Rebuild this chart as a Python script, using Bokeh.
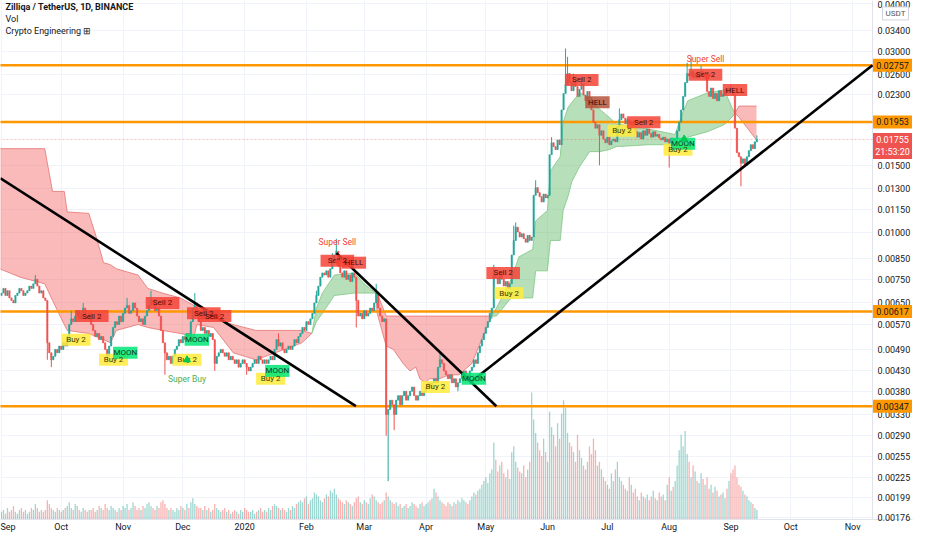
import math
from bokeh.plotting import figure
from bokeh.models import (ColumnDataSource, FixedTicker, NumeralTickFormatter, Range1d,
                          LinearScale, Span, Label, BoxAnnotation)
from bokeh.embed import file_html
from bokeh.resources import INLINE
from bokeh.core.properties import value

# ---------------- data (day 0 = 2019-09-01) ----------------
close = [
    0.0069, 0.0071, 0.0068, 0.0070, 0.0067, 0.0066, 0.0065, 0.0068, 0.0069, 0.0071,
    0.0070, 0.0068, 0.0069, 0.0070, 0.0072, 0.0071, 0.0073, 0.0075, 0.0072, 0.0069,
    0.0070, 0.0067, 0.0066, 0.0051, 0.0048, 0.0046, 0.0047, 0.0049, 0.0048, 0.0050,
    0.0049, 0.0051, 0.0050, 0.0053, 0.0057, 0.0059, 0.0058, 0.0060, 0.0062, 0.0059,
    0.0061, 0.0063, 0.0060, 0.0059, 0.0061, 0.0057, 0.0055, 0.0053, 0.0054, 0.0052,
    0.0053, 0.0051, 0.0049, 0.0047, 0.0050, 0.0053, 0.0056, 0.0058, 0.0057, 0.0060,
    0.0058, 0.0061, 0.0063, 0.0064, 0.0061, 0.0062, 0.0065, 0.0063, 0.0060, 0.0058,
    0.0059, 0.0057, 0.0060, 0.0062, 0.0064, 0.0066, 0.0065, 0.0062, 0.0063, 0.0060,
    0.0055, 0.0051, 0.0048, 0.0046, 0.0047, 0.0045, 0.0047, 0.0049, 0.0050, 0.0052,
    0.0051, 0.0053, 0.0052, 0.0054, 0.0053, 0.0058, 0.0063, 0.0065, 0.0061, 0.0058,
    0.0055, 0.0056, 0.0054, 0.0055, 0.0053, 0.0054, 0.0052, 0.0045, 0.0047, 0.0048,
    0.0049, 0.0048, 0.0047, 0.0048, 0.0046, 0.0047, 0.0046, 0.0045, 0.0046, 0.0044,
    0.0045, 0.0046, 0.0045, 0.0044, 0.0043, 0.0044, 0.0045, 0.0046, 0.0045, 0.0047,
    0.0046, 0.0045, 0.0046, 0.0045, 0.0046, 0.0047, 0.0046, 0.0049, 0.0052, 0.0050,
    0.0051, 0.0049, 0.0048, 0.0049, 0.0050, 0.0049, 0.0050, 0.0052, 0.0051, 0.0053,
    0.0054, 0.0056, 0.0055, 0.0058, 0.0057, 0.0059, 0.0061, 0.0065, 0.0068, 0.0072,
    0.0076, 0.0078, 0.0077, 0.0079, 0.0076, 0.0080, 0.0084, 0.0087, 0.0089, 0.0083,
    0.0078, 0.0076, 0.0079, 0.0075, 0.0077, 0.0074, 0.0078, 0.0076, 0.0066, 0.0060,
    0.0061, 0.0059, 0.0062, 0.0060, 0.0061, 0.0063, 0.0062, 0.0065, 0.0069, 0.0063,
    0.0060, 0.0058, 0.0059, 0.0033, 0.0034, 0.0036, 0.0035, 0.0033, 0.0036, 0.0037,
    0.0035, 0.0037, 0.0038, 0.0036, 0.0037, 0.0038, 0.0039, 0.0037, 0.0036, 0.0037,
    0.0038, 0.0037, 0.0038, 0.0039, 0.0040, 0.0039, 0.0040, 0.0041, 0.0040, 0.0044,
    0.0046, 0.0045, 0.0043, 0.0042, 0.0041, 0.0042, 0.0040, 0.0041, 0.0039, 0.0040,
    0.0041, 0.0042, 0.0043, 0.0042, 0.0041, 0.0043, 0.0044, 0.0046, 0.0045, 0.0048,
    0.0050, 0.0052, 0.0054, 0.0056, 0.0058, 0.0061, 0.0063, 0.0077, 0.0076, 0.0073,
    0.0078, 0.0075, 0.0072, 0.0074, 0.0071, 0.0073, 0.0087, 0.0095, 0.0103, 0.0100,
    0.0097, 0.0099, 0.0096, 0.0094, 0.0098, 0.0095, 0.0097, 0.0125, 0.0131, 0.0127,
    0.0124, 0.0120, 0.0126, 0.0123, 0.0125, 0.0160, 0.0172, 0.0168, 0.0165, 0.0175,
    0.0170, 0.0210, 0.0232, 0.0245, 0.0262, 0.0248, 0.0236, 0.0250, 0.0242, 0.0228,
    0.0238, 0.0246, 0.0230, 0.0222, 0.0235, 0.0226, 0.0210, 0.0195, 0.0188, 0.0192,
    0.0180, 0.0185, 0.0176, 0.0172, 0.0178, 0.0170, 0.0174, 0.0176, 0.0173, 0.0190,
    0.0198, 0.0205, 0.0200, 0.0193, 0.0198, 0.0190, 0.0195, 0.0188, 0.0184, 0.0178,
    0.0183, 0.0176, 0.0185, 0.0180, 0.0187, 0.0182, 0.0178, 0.0184, 0.0179, 0.0181,
    0.0177, 0.0175, 0.0178, 0.0173, 0.0176, 0.0172, 0.0177, 0.0174, 0.0176, 0.0185,
    0.0195, 0.0210, 0.0228, 0.0248, 0.0262, 0.0258, 0.0265, 0.0256, 0.0262, 0.0255,
    0.0260, 0.0265, 0.0258, 0.0263, 0.0235, 0.0228, 0.0240, 0.0225, 0.0232, 0.0222,
    0.0236, 0.0228, 0.0231, 0.0238, 0.0233, 0.0240, 0.0236, 0.0230, 0.0188, 0.0162,
    0.0158, 0.0152, 0.0156, 0.0150, 0.0158, 0.0164, 0.0170, 0.0166, 0.0173, 0.01755,
]
first_open = 0.0068

high_wicks = {17: 0.0077, 35: 0.0062, 41: 0.0065, 63: 0.0067, 75: 0.0070, 97: 0.0069,
              139: 0.0054, 158: 0.0070, 166: 0.0088, 168: 0.0096, 188: 0.0073, 220: 0.0048,
              247: 0.0082, 257: 0.0104, 258: 0.0106, 268: 0.0137, 276: 0.0178, 283: 0.0305,
              284: 0.0290, 287: 0.0262, 291: 0.0255, 310: 0.0212, 344: 0.0280, 346: 0.0290,
              351: 0.0275, 366: 0.0245, 379: 0.0180}
low_wicks = {23: 0.0046, 25: 0.0044, 53: 0.0045, 82: 0.0042, 107: 0.0043, 123: 0.0042,
             178: 0.0056, 193: 0.0029, 194: 0.0022, 197: 0.0030, 229: 0.0038, 246: 0.0059,
             300: 0.0150, 335: 0.0148, 371: 0.0132}

volume = [
    4, 5, 3, 6, 4, 5, 7, 4, 3, 5, 6, 4, 5, 3, 4, 6, 5, 8, 6, 4, 5, 4, 5,
    10, 8, 6, 5, 4, 6, 5, 4, 5,
    6, 7, 9, 6, 5, 8, 7, 5, 4, 6, 5, 4, 5,
    5, 6, 4, 5, 7, 6, 5, 8, 6, 5, 7, 6, 5, 4, 6, 5, 7,
    6, 8, 5, 6, 9, 7, 5, 6, 5, 7, 6, 8, 9, 7, 6, 5, 7, 6,
    9, 10, 8, 6, 5, 6, 5, 4, 6, 5, 7, 6, 5, 8, 6, 9, 11, 8, 7, 6,
    6, 5, 7, 5, 6, 4, 5, 8, 6, 5, 4, 5, 6, 4, 5, 3, 4, 5, 4, 3, 5, 4, 6, 5, 4,
    4, 5, 3, 4, 5, 6, 4, 5, 4, 6, 5, 7, 8, 7, 6, 5, 6, 5, 4, 6, 5, 7, 6, 8, 9,
    10, 9, 11, 12, 8, 10, 11, 14, 13, 12, 10, 9, 11, 13, 12, 15, 14, 16, 13, 11, 10,
    9, 8, 10, 9, 8, 7, 9, 11, 12, 9, 8, 10, 9, 8, 11, 13, 12, 10, 9, 8, 9, 10,
    14, 12, 10, 9, 8, 9, 7, 8, 6, 7, 8, 6, 7, 9, 8, 7, 6, 8, 9, 7, 8,
    9, 10, 11, 16, 14, 12, 10, 9, 8, 7, 9, 8, 7, 9, 8, 10, 9, 11, 10, 9, 8, 10, 12,
    14, 13, 15, 16, 18, 20, 22, 19, 24, 26,
    40, 31, 25, 28, 30, 24, 22, 26, 21, 35, 38, 30, 27, 25,
    24, 28, 22, 26, 30, 66, 52, 45, 40, 36, 33, 42, 35, 30,
    56, 48, 44, 38, 50, 42, 55, 62, 58, 45, 40, 38, 35, 30, 44, 36,
    32, 28, 26, 30, 38, 34, 42, 36, 28, 30, 26, 22, 20, 18, 16, 24, 20, 26, 30, 22,
    20, 18, 16, 15, 22, 18, 14, 16, 12, 10, 14, 12, 11, 13, 10, 12, 15, 11, 10, 14, 12, 13, 10, 18, 22, 15, 17, 20,
    28, 36, 44, 38, 46, 34, 30, 22, 28, 25, 20, 19, 24, 21, 18,
    22, 16, 18, 14, 17, 15, 12, 13, 14, 11, 16, 20, 24, 26, 28, 22, 18, 17, 15, 13, 12, 10, 9, 8, 6, 5,
]

# cloud bands (day, upper, lower)
red1_day = [-1, 9.4, 21.7, 25.6, 31.5, 33.0, 43.8, 47.3, 51.2, 54.7, 57.6, 68.5, 73.4, 80.8,
            89.7, 96.6, 98.0, 106.4, 116.3, 127.6, 137.4, 150.7, 155.7]
red1_top = [0.0166, 0.0166, 0.0166, 0.0128, 0.0128, 0.0113, 0.0112, 0.0098, 0.0083, 0.0082,
            0.0080, 0.0077, 0.0071, 0.0069, 0.0067, 0.0064, 0.0061, 0.0059, 0.0057, 0.0055,
            0.0055, 0.0055, 0.0054]
red1_bot = [0.0080, 0.0076, 0.0073, 0.0066, 0.0057, 0.0055, 0.0054, 0.0053, 0.0052, 0.0051,
            0.0055, 0.0057, 0.0056, 0.0055, 0.0054, 0.0053, 0.0057, 0.0056, 0.0048, 0.0046,
            0.0048, 0.0051, 0.0054]
green1_day = [155.7, 158.0, 161.0, 167.0, 177.0, 182.0, 187.7]
green1_top = [0.0054, 0.0063, 0.0069, 0.0077, 0.0078, 0.0073, 0.0069]
green1_bot = [0.0054, 0.0058, 0.0061, 0.0068, 0.0069, 0.0069, 0.0069]
red2_day = [187.7, 188.5, 193.0, 196.6, 201.5, 204.9, 207.9, 209.9, 212.8, 214.8, 219.7,
            224.6, 229.6, 236.0, 240.9, 245.8]
red2_top = [0.0069, 0.0069, 0.0060, 0.0060, 0.0060, 0.0060, 0.0060, 0.0060, 0.0060, 0.0060,
            0.0060, 0.0060, 0.0060, 0.0060, 0.0060, 0.0060]
red2_bot = [0.0069, 0.0061, 0.0050, 0.0049, 0.0045, 0.0043, 0.0044, 0.0041, 0.0040, 0.0041,
            0.0041, 0.0042, 0.0042, 0.0045, 0.0052, 0.0060]
green2_day = [245.8, 248.3, 255.7, 259.6, 266.5, 268.0, 273.9, 275.4, 280.3, 281.8, 284.2,
              286.2, 290.1, 295.1, 300.0, 304.9, 308.4, 324.6, 337.9, 341.9, 344.3, 354.2,
              362.6, 366.5, 368.0]
green2_top = [0.0060, 0.0063, 0.0075, 0.0086, 0.0090, 0.0107, 0.0114, 0.0145, 0.0158, 0.0195,
              0.0213, 0.0220, 0.0233, 0.0226, 0.0211, 0.0201, 0.0193, 0.0187, 0.0181, 0.0207,
              0.0222, 0.0233, 0.0237, 0.0213, 0.0206]
green2_bot = [0.0060, 0.0060, 0.0067, 0.0067, 0.0067, 0.0079, 0.0079, 0.0095, 0.0095, 0.0114,
              0.0124, 0.0136, 0.0149, 0.0163, 0.0163, 0.0165, 0.0168, 0.0170, 0.0170, 0.0175,
              0.0178, 0.0184, 0.0192, 0.0201, 0.0206]
red3_day = [368.0, 370.0, 378.8]
red3_top = [0.0206, 0.0215, 0.0215]
red3_bot = [0.0206, 0.0201, 0.0175]

levels = [0.02757, 0.01953, 0.00617, 0.00347]
last_price = 0.01755
countdown = "21:53:20"

trend_x = [[-0.5, 177.8], [168.0, 248.3], [235.0, 437.0]]
trend_y = [[0.01386, 0.00347], [0.0088, 0.00347], [0.0040, 0.02757]]

lab_day = [37.4, 56.2, 93.1, 135.0, 217.7, 254.7, 311.3, 339.4,
           62.1, 98.0, 138.4, 237.0, 341.9,
           45.3, 80.8, 101.5, 106.9, 168.5, 176.8, 251.7, 291.1, 299.0, 322.2, 353.2, 368.0]
lab_price = [0.0052, 0.0046, 0.0046, 0.0041, 0.0039, 0.0069, 0.0185, 0.0165,
             0.0048, 0.0052, 0.0043, 0.0041, 0.0171,
             0.0060, 0.0065, 0.0061, 0.0060, 0.0084, 0.0083, 0.0078, 0.0252, 0.0220, 0.0195,
             0.0260, 0.0237]
lab_text = ["Buy 2"] * 8 + ["MOON"] * 5 + ["Sell 2", "Sell 2", "Sell 2", "Sell 2", "Sell 2",
            "HELL", "Sell 2", "Sell 2", "HELL", "Sell 2", "Sell 2", "HELL"]
lab_kind = ["buy"] * 8 + ["moon"] * 5 + ["sell"] * 8 + ["hell2"] + ["sell"] * 3

super_day = [168.5, 353.2, 93.1]
super_price = [0.0094, 0.0287, 0.0041]
super_text = ["Super Sell", "Super Sell", "Super Buy"]
super_kind = ["sell", "sell", "buy"]

dn_tri_day = [169.0, 354.0]
dn_tri_price = [0.0083, 0.0257]
up_tri_day = [93.1, 342.5]
up_tri_price = [0.0046, 0.0176]

month_days = [0, 30, 61, 91, 122, 153, 182, 213, 243, 274, 304, 335, 366, 396, 427]
month_labels = ["Sep", "Oct", "Nov", "Dec", "2020", "Feb", "Mar", "Apr", "May", "Jun",
                "Jul", "Aug", "Sep", "Oct", "Nov"]
price_ticks = [0.04, 0.034, 0.03, 0.026, 0.023, 0.015, 0.013, 0.0115, 0.01, 0.0085, 0.0075,
               0.0065, 0.0057, 0.0049, 0.0043, 0.0038, 0.0033, 0.0029, 0.00255, 0.00225,
               0.00199, 0.00176]

# ---------------- layout constants ----------------
W, H = 916, 534
BR, BB = 4, 13                 # right / bottom border
FW, FH = W - BR, H - BB        # frame size
STRIP = 40                     # price-scale strip width (px) inside the frame
X0, XDATA_END = -0.5, 437.0
px_per_day = (FW - STRIP) / (XDATA_END - X0)
X1 = XDATA_END + STRIP / px_per_day
Y0, Y1 = 0.001743, 0.04084
px_per_ln = FH / math.log(Y1 / Y0)
strip_mid = XDATA_END + STRIP / px_per_day / 2

UP = "#26a69a"
DN = "#ef5350"
FONT = "Roboto"

n = len(close)
days = list(range(n))
opens = [first_open] + close[:-1]
highs, lows, cols = [], [], []
for i in range(n):
    o, c = opens[i], close[i]
    highs.append(high_wicks.get(i, max(o, c)))
    lows.append(low_wicks.get(i, min(o, c)))
    cols.append(UP if c >= o else DN)
src = ColumnDataSource(dict(x=days, o=opens, c=close, h=highs, l=lows,
                            top=[max(a, b) for a, b in zip(opens, close)],
                            bot=[min(a, b) for a, b in zip(opens, close)],
                            col=cols, vol=volume[:n]))

p = figure(width=W, height=H, x_range=Range1d(X0, X1), y_range=Range1d(Y0, Y1),
           y_axis_type="log", y_axis_location="right",
           output_backend="svg", toolbar_location=None,
           min_border_left=0, min_border_right=BR, min_border_top=0, min_border_bottom=BB)
p.extra_y_ranges = {"vol": Range1d(0, 265 * FH / 512)}
p.extra_y_scales = {"vol": LinearScale()}
p.outline_line_color = None

# axes
p.yaxis.ticker = FixedTicker(ticks=price_ticks)
p.yaxis.formatter = NumeralTickFormatter(format="0.00000")
p.xaxis.ticker = FixedTicker(ticks=month_days)
p.xaxis.major_label_overrides = {d: t for d, t in zip(month_days, month_labels)}
for ax in (p.xaxis[0], p.yaxis[0]):
    ax.major_tick_line_color = None
    ax.minor_tick_line_color = None
    ax.major_tick_out = 0
    ax.major_tick_in = 0
    ax.major_label_text_font = FONT
    ax.major_label_text_font_size = "9px"
    ax.major_label_text_color = "#131722"
p.yaxis.axis_line_color = None
p.xaxis.axis_line_color = "#e0e3eb"
p.yaxis.major_label_standoff = -(STRIP - 5)
p.xaxis.major_label_standoff = 2
p.xgrid.grid_line_color = "#f0f3fa"
p.ygrid.grid_line_color = "#f0f3fa"

# blank price-scale strip
p.add_layout(BoxAnnotation(left=XDATA_END, fill_color="white", fill_alpha=1.0,
                           line_color=None, level="underlay"))
p.add_layout(Span(location=XDATA_END, dimension="height", line_color="#e0e3eb",
                  line_width=1, level="underlay"))

# volume
p.vbar(x="x", top="vol", bottom=0, width=0.65, y_range_name="vol", source=src,
       fill_color="col", line_color=None, fill_alpha=0.45)

# clouds
def cloud(dx, top, bot, color, edge):
    p.varea(x=dx, y1=bot, y2=top, fill_color=color, fill_alpha=0.4)
    p.line(dx, top, line_color=edge, line_width=1, line_alpha=0.8)
    p.line(dx, bot, line_color=edge, line_width=1, line_alpha=0.8)

cloud(red1_day, red1_top, red1_bot, "#ef5350", "#e57373")
cloud(green1_day, green1_top, green1_bot, "#4caf50", "#81c784")
cloud(red2_day, red2_top, red2_bot, "#ef5350", "#e57373")
cloud(green2_day, green2_top, green2_bot, "#4caf50", "#81c784")
cloud(red3_day, red3_top, red3_bot, "#ef5350", "#e57373")

# level lines
p.segment(x0=[X0 - 1], x1=[XDATA_END], y0=[last_price], y1=[last_price], line_color=DN,
          line_alpha=0.35, line_width=1, line_dash="2 2")
p.segment(x0=[X0 - 1] * len(levels), x1=[XDATA_END] * len(levels), y0=levels, y1=levels,
          line_color="#ff9800", line_width=2.5)

# candles
p.segment(x0="x", x1="x", y0="l", y1="h", line_color="col", line_width=1, source=src)
p.vbar(x="x", top="top", bottom="bot", width=0.7, fill_color="col", line_color="col",
       line_width=0.5, source=src)

# trend lines
for tx, ty in zip(trend_x, trend_y):
    p.line(tx, ty, line_color="black", line_width=2.6)

# signal labels
box_fill = {"buy": "#ffeb3b", "moon": "#00e676", "sell": "#f44336", "hell2": "#b5543c"}
txt_col = {"buy": "#3b3b00", "moon": "#0b3d1f", "sell": "#4a0d0d", "hell2": "#2b0d05"}
lsrc = ColumnDataSource(dict(x=lab_day, y=lab_price, t=lab_text,
                             w=[len(t) * 4.6 + 6 for t in lab_text],
                             f=[box_fill[k] for k in lab_kind],
                             tc=[txt_col[k] for k in lab_kind]))
p.rect(x="x", y="y", width="w", height=12, width_units="screen", height_units="screen",
       fill_color="f", fill_alpha=0.85, line_color=None, source=lsrc)
p.text(x="x", y="y", text="t", text_color="tc", text_font=value(FONT), text_font_size="8px",
       text_align="center", text_baseline="middle", source=lsrc)
p.scatter(dn_tri_day, dn_tri_price, marker="inverted_triangle", size=7, color="#f44336")
p.scatter(up_tri_day, up_tri_price, marker="triangle", size=7, color="#00c853")
p.text(x=super_day, y=super_price, text=super_text,
       text_color=["#f44336" if k == "sell" else "#4caf50" for k in super_kind],
       text_font=value(FONT), text_font_size="8.5px", text_align="center",
       text_baseline="middle")

# price tags on the price scale
cd_price = last_price * math.exp(-13 / px_per_ln)
usdt_price = Y1 * math.exp(-13 / px_per_ln)
tag_y = levels + [last_price, cd_price]
tag_t = [f"{v:.5f}" for v in levels] + [f"{last_price:.5f}", countdown]
tag_f = ["#ff9800"] * len(levels) + ["#ef5350", "#ef5350"]
tag_tc = ["#131722"] * len(levels) + ["white", "white"]
tsrc = ColumnDataSource(dict(x=[strip_mid] * len(tag_y), y=tag_y, t=tag_t, f=tag_f, tc=tag_tc))
p.rect(x="x", y="y", width=STRIP - 1, height=13, width_units="screen", height_units="screen",
       fill_color="f", line_color=None, source=tsrc, level="overlay")
p.text(x="x", y="y", text="t", text_color="tc", text_font=value(FONT), text_font_size="9px",
       text_align="center", text_baseline="middle", source=tsrc, level="overlay")
p.rect(x=[strip_mid + 3 / px_per_day], y=[usdt_price], width=26, height=13,
       width_units="screen", height_units="screen", fill_color="white",
       line_color="#d1d4dc", level="overlay")
p.text(x=[strip_mid + 3 / px_per_day], y=[usdt_price], text=["USDT"], text_color="#50535e",
       text_font=value(FONT), text_font_size="8px", text_align="center",
       text_baseline="middle", level="overlay")

# header
for i, (t, st) in enumerate([("Zilliqa / TetherUS, 1D, BINANCE", "bold"),
                             ("Vol", "normal"),
                             ("Crypto Engineering \u229e", "normal")]):
    p.add_layout(Label(x=5, y=FH - 8 - 12 * i, x_units="screen", y_units="screen", text=t,
                       text_font=FONT, text_font_size="9px", text_font_style=st,
                       text_color="#131722", text_baseline="middle"))

open("out.html", "w").write(file_html(p, INLINE))
